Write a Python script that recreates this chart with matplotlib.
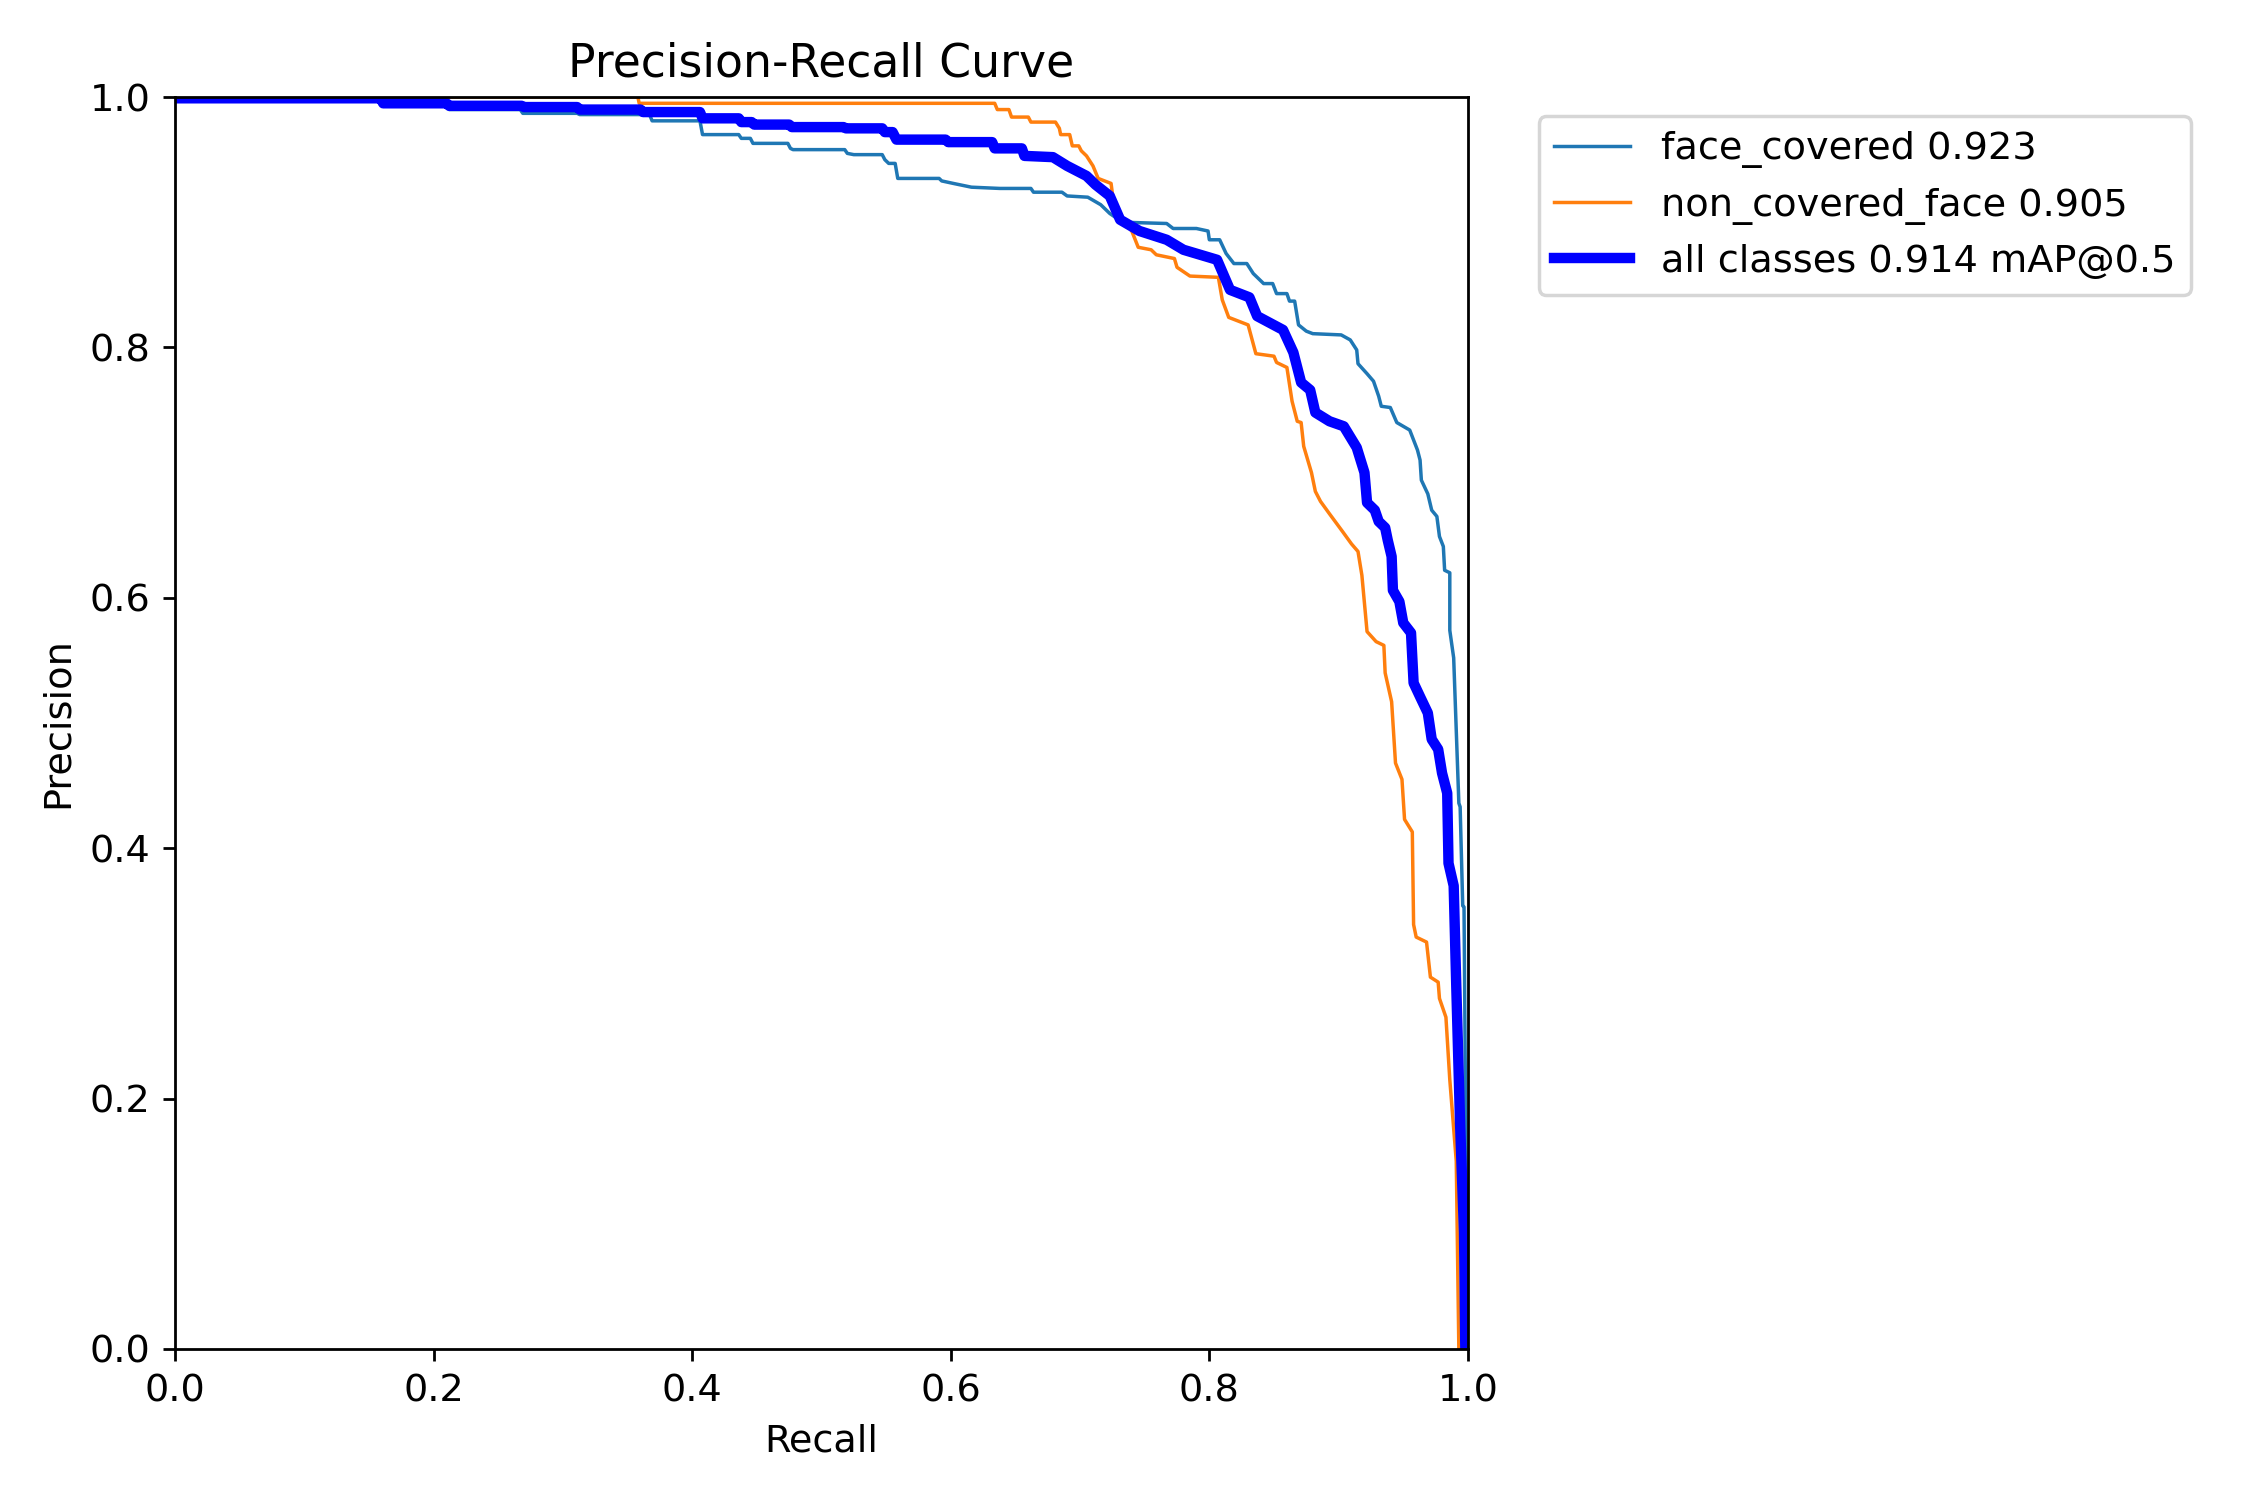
import matplotlib

matplotlib.use("Agg")
import matplotlib.pyplot as plt

plt.rcParams["font.size"] = 11

# face_covered 0.923
fc_recall = [0.000, 0.210, 0.212, 0.267, 0.269, 0.311, 0.313, 0.367, 0.369, 0.406, 0.408, 0.436, 0.438,
             0.445, 0.447, 0.474, 0.476, 0.478, 0.518, 0.520, 0.525, 0.547, 0.549, 0.552, 0.557, 0.559,
             0.591, 0.593, 0.602, 0.616, 0.638, 0.662, 0.664, 0.686, 0.690, 0.706, 0.716, 0.723, 0.733,
             0.767, 0.772, 0.790, 0.799, 0.800, 0.808, 0.813, 0.819, 0.829, 0.834, 0.842, 0.849, 0.852,
             0.860, 0.862, 0.866, 0.869, 0.875, 0.880, 0.902, 0.909, 0.914, 0.915, 0.922, 0.927, 0.931,
             0.933, 0.940, 0.945, 0.955, 0.961, 0.963, 0.964, 0.969, 0.972, 0.976, 0.978, 0.981, 0.982,
             0.986, 0.986, 0.989, 0.993, 0.994, 0.996, 0.997, 0.998, 0.999]
fc_precision = [0.997, 0.997, 0.990, 0.990, 0.987, 0.987, 0.986, 0.986, 0.981, 0.981, 0.970, 0.970, 0.967,
                0.967, 0.963, 0.963, 0.959, 0.958, 0.958, 0.955, 0.954, 0.954, 0.950, 0.947, 0.947, 0.935,
                0.935, 0.933, 0.931, 0.928, 0.927, 0.927, 0.924, 0.924, 0.921, 0.920, 0.914, 0.907, 0.900,
                0.899, 0.895, 0.895, 0.893, 0.886, 0.886, 0.875, 0.867, 0.867, 0.859, 0.851, 0.851, 0.843,
                0.843, 0.837, 0.837, 0.818, 0.813, 0.811, 0.810, 0.806, 0.798, 0.787, 0.779, 0.773, 0.761,
                0.753, 0.752, 0.740, 0.734, 0.718, 0.710, 0.694, 0.683, 0.670, 0.665, 0.649, 0.641, 0.622,
                0.620, 0.574, 0.552, 0.436, 0.433, 0.354, 0.353, 0.220, 0.000]

# non_covered_face 0.905
nc_recall = [0.000, 0.358, 0.359, 0.634, 0.636, 0.645, 0.647, 0.660, 0.662, 0.681, 0.684, 0.685, 0.692,
             0.694, 0.699, 0.701, 0.705, 0.710, 0.714, 0.724, 0.726, 0.731, 0.740, 0.745, 0.755, 0.759,
             0.773, 0.775, 0.785, 0.807, 0.810, 0.815, 0.830, 0.836, 0.850, 0.852, 0.860, 0.864, 0.868,
             0.871, 0.873, 0.879, 0.882, 0.886, 0.893, 0.903, 0.910, 0.915, 0.918, 0.922, 0.929, 0.935,
             0.936, 0.941, 0.944, 0.949, 0.951, 0.957, 0.958, 0.960, 0.968, 0.971, 0.977, 0.978, 0.983,
             0.986, 0.991, 0.993]
nc_precision = [1.000, 1.000, 0.995, 0.995, 0.990, 0.990, 0.984, 0.984, 0.980, 0.980, 0.975, 0.970, 0.970,
                0.961, 0.961, 0.957, 0.953, 0.945, 0.935, 0.931, 0.915, 0.904, 0.893, 0.880, 0.878, 0.874,
                0.871, 0.864, 0.857, 0.856, 0.838, 0.824, 0.818, 0.795, 0.793, 0.788, 0.784, 0.757, 0.741,
                0.740, 0.721, 0.700, 0.685, 0.677, 0.667, 0.653, 0.643, 0.637, 0.618, 0.573, 0.565, 0.562,
                0.540, 0.517, 0.468, 0.455, 0.423, 0.413, 0.339, 0.329, 0.325, 0.297, 0.293, 0.280, 0.265,
                0.215, 0.150, 0.000]

# all classes 0.914 mAP@0.5
all_recall = [0.000, 0.159, 0.161, 0.210, 0.212, 0.268, 0.270, 0.311, 0.313, 0.360, 0.362, 0.406, 0.408,
              0.436, 0.438, 0.446, 0.448, 0.475, 0.477, 0.517, 0.519, 0.547, 0.549, 0.555, 0.558, 0.596,
              0.598, 0.632, 0.634, 0.655, 0.657, 0.679, 0.690, 0.705, 0.712, 0.723, 0.731, 0.746, 0.767,
              0.780, 0.806, 0.816, 0.831, 0.837, 0.857, 0.865, 0.871, 0.878, 0.882, 0.893, 0.904, 0.914,
              0.920, 0.922, 0.928, 0.931, 0.936, 0.938, 0.941, 0.942, 0.947, 0.950, 0.956, 0.958, 0.963,
              0.969, 0.972, 0.977, 0.980, 0.984, 0.985, 0.989, 0.991, 0.994, 0.997, 0.998]
all_precision = [0.999, 0.999, 0.995, 0.995, 0.993, 0.993, 0.992, 0.992, 0.990, 0.990, 0.988, 0.988, 0.983,
                 0.983, 0.980, 0.980, 0.978, 0.978, 0.976, 0.976, 0.975, 0.975, 0.972, 0.972, 0.966, 0.966,
                 0.964, 0.964, 0.959, 0.959, 0.953, 0.952, 0.945, 0.937, 0.930, 0.921, 0.902, 0.893, 0.886,
                 0.878, 0.870, 0.846, 0.840, 0.825, 0.814, 0.796, 0.772, 0.766, 0.748, 0.741, 0.737, 0.720,
                 0.700, 0.676, 0.670, 0.661, 0.656, 0.646, 0.633, 0.606, 0.597, 0.580, 0.572, 0.532, 0.521,
                 0.508, 0.487, 0.479, 0.460, 0.444, 0.388, 0.370, 0.290, 0.178, 0.093, 0.000]

fig = plt.figure(figsize=(9, 6), dpi=250)
ax = fig.add_axes([0.0778, 0.1007, 0.5746, 0.8346])

ax.plot(fc_recall, fc_precision, linewidth=1, label="face_covered 0.923")
ax.plot(nc_recall, nc_precision, linewidth=1, label="non_covered_face 0.905")
ax.plot(all_recall, all_precision, linewidth=3, color="blue", label="all classes 0.914 mAP@0.5")

ax.set_xlabel("Recall")
ax.set_ylabel("Precision")
ax.set_xlim(0, 1)
ax.set_ylim(0, 1)
ax.set_title("Precision-Recall Curve")
ax.legend(bbox_to_anchor=(1.04, 1), loc="upper left")

fig.savefig("out.png", dpi=250)
plt.close(fig)
